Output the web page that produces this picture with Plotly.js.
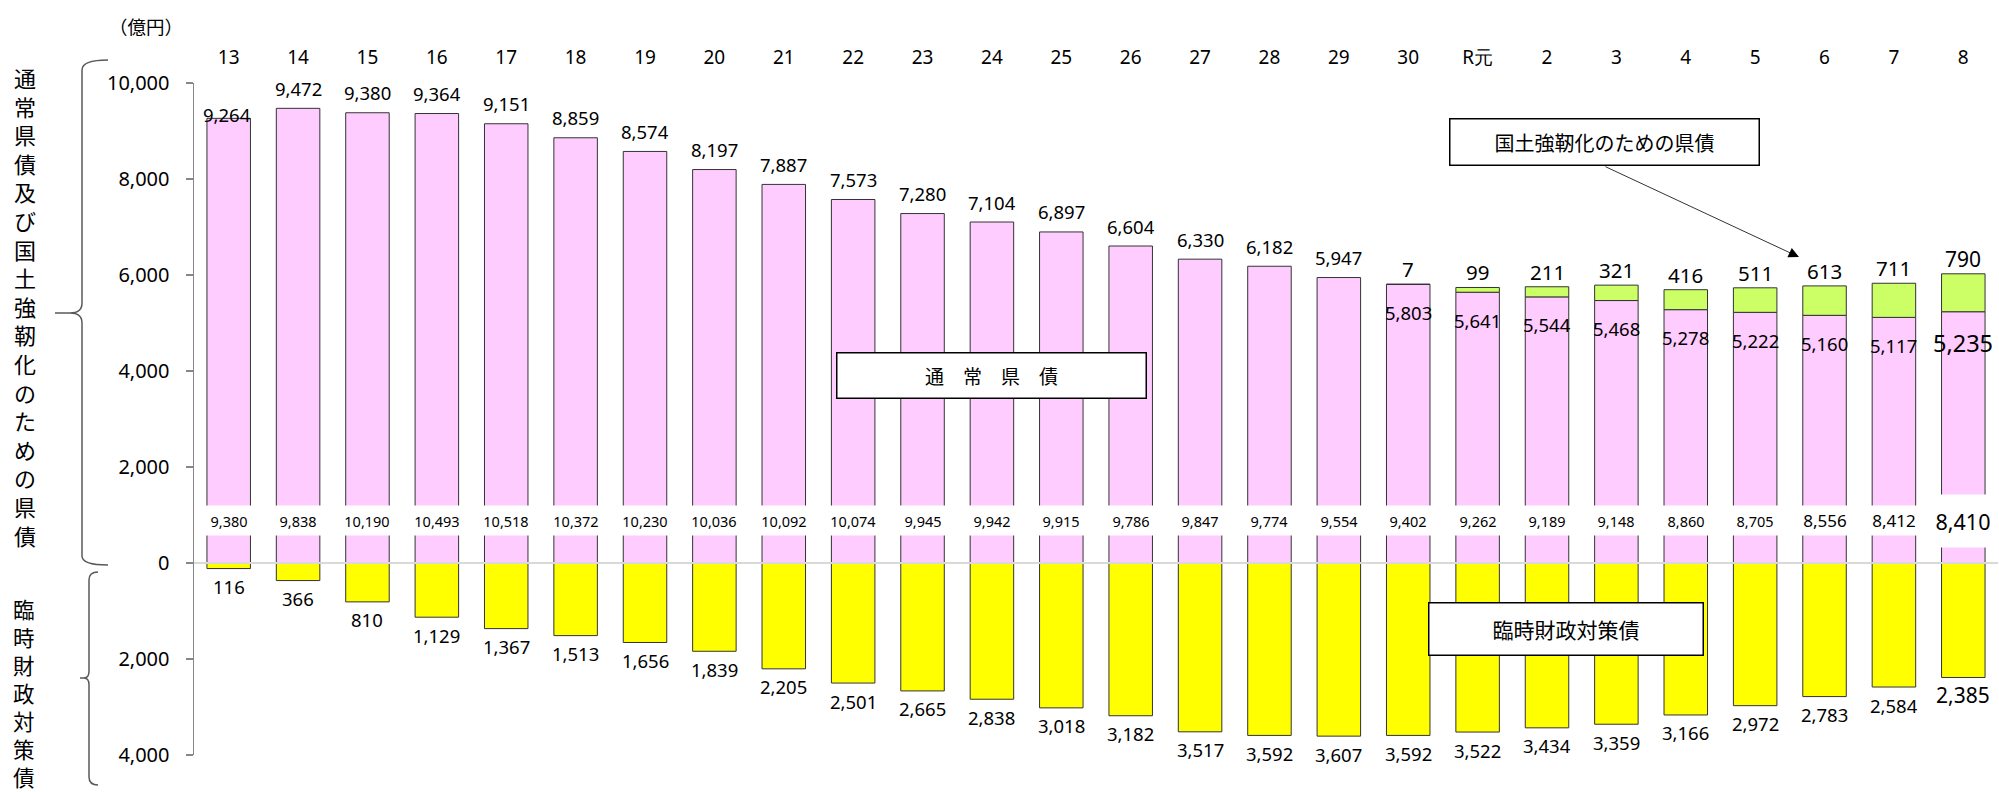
<!DOCTYPE html>
<html><head><meta charset="utf-8">
<script src="https://cdn.plot.ly/plotly-3.0.1.min.js"></script>
<style>html,body{margin:0;padding:0;background:#fff}#chart{width:1999px;height:792px}</style>
</head><body><div id="chart"></div>
<script>
// ---- data ----
const categories = ['13','14','15','16','17','18','19','20','21','22','23','24','25','26','27','28','29','30','R元','2','3','4','5','6','7','8'];
const normalDebt = [9264,9472,9380,9364,9151,8859,8574,8197,7887,7573,7280,7104,6897,6604,6330,6182,5947,5803,5641,5544,5468,5278,5222,5160,5117,5235];
const resilienceDebt = [null,null,null,null,null,null,null,null,null,null,null,null,null,null,null,null,null,7,99,211,321,416,511,613,711,790];
const tempDebt = [116,366,810,1129,1367,1513,1656,1839,2205,2501,2665,2838,3018,3182,3517,3592,3607,3592,3522,3434,3359,3166,2972,2783,2584,2385];
const totals = [9380,9838,10190,10493,10518,10372,10230,10036,10092,10074,9945,9942,9915,9786,9847,9774,9554,9402,9262,9189,9148,8860,8705,8556,8412,8410];
const yTickVals = [-4000,-2000,0,2000,4000,6000,8000,10000];
const yTickText = ['4,000','2,000','0','2,000','4,000','6,000','8,000','10,000'];
const titleNormal = '通常県債及び国土強靭化のための県債';
const titleTemp = '臨時財政対策債';
const unitLabel = '（億円）';
const boxNormal = '通　常　県　債';
const boxResilience = '国土強靭化のための県債';
const boxTemp = '臨時財政対策債';

// ---- layout helpers (decorations only) ----
const W = 1999, H = 792;
const M = {l:194, r:1, t:83, b:37};
const PW = W - M.l - M.r, PH = H - M.t - M.b;
const PX = px => (px - M.l) / PW;
const PY = py => (H - M.b - py) / PH;
const fmt = v => v.toLocaleString('en-US');
const NUM = 'Noto Sans, DejaVu Sans, sans-serif';
const JP = 'Noto Sans CJK JP, Noto Sans, sans-serif';
const TOTAL_LABEL_Y = 880;
const edge = {color:'#333333', width:1};

const traces = [
  {type:'bar', x:categories, y:normalDebt, marker:{color:'#FFCCFF', line:edge}, hoverinfo:'skip'},
  {type:'bar', x:categories, y:resilienceDebt, marker:{color:'#CCFF66', line:edge}, hoverinfo:'skip'},
  {type:'bar', x:categories, y:tempDebt.map(v => -v), marker:{color:'#FFFF00', line:edge}, hoverinfo:'skip'}
];

const ann = [];
const n = categories.length;
for (let i = 0; i < n; i++) {
  const last = i === n - 1;
  const stacked = resilienceDebt[i] !== null;
  ann.push({x:i, y:normalDebt[i], xref:'x', yref:'y', text:fmt(normalDebt[i]), showarrow:false,
    yanchor:'middle', yshift: stacked ? (last ? -31 : -28) : (i === 0 ? 4 : 20), xshift: i === 0 ? -2 : 0,
    font:{family:NUM, size: last ? 23.5 : 18.5, color:'#000'}});
  if (stacked) {
    ann.push({x:i, y:normalDebt[i] + resilienceDebt[i], xref:'x', yref:'y', text:fmt(resilienceDebt[i]), showarrow:false,
      yanchor:'middle', yshift:15, font:{family:NUM, size: last ? 21 : 20.5, color:'#000'}});
  }
  ann.push({x:i, y:-tempDebt[i], xref:'x', yref:'y', text:fmt(tempDebt[i]), showarrow:false,
    yanchor:'middle', yshift:-18, font:{family:NUM, size: last ? 21 : 18.5, color:'#000'}});
  const tsize = last ? 21.5 : (i >= 23 ? 17 : 14.5);
  ann.push({x:i, y:TOTAL_LABEL_Y, xref:'x', yref:'y', text:fmt(totals[i]), showarrow:false,
    yanchor:'middle', bgcolor:'#ffffff', width:54, height: last ? 50 : 27, borderpad:1,
    font:{family:NUM, size:tsize, color:'#000'}});
}

ann.push({xref:'paper', yref:'paper', x:PX(25), y:PY(306), text:titleNormal.split('').join('<br>'), showarrow:false,
  xanchor:'center', yanchor:'middle', font:{family:JP, size:22, color:'#000'}});
ann.push({xref:'paper', yref:'paper', x:PX(24), y:PY(692), text:titleTemp.split('').join('<br>'), showarrow:false,
  xanchor:'center', yanchor:'middle', font:{family:JP, size:21.5, color:'#000'}});
ann.push({xref:'paper', yref:'paper', x:PX(146), y:PY(26), text:unitLabel, showarrow:false,
  xanchor:'center', yanchor:'middle', font:{family:JP, size:18.5, color:'#000'}});
ann.push({xref:'paper', yref:'paper', x:PX(991), y:PY(375), text:boxNormal, showarrow:false,
  xanchor:'center', yanchor:'middle', width:306, height:42, borderpad:1, bgcolor:'#fff', bordercolor:'#000', borderwidth:1.5,
  font:{family:JP, size:19, color:'#000'}});
ann.push({xref:'paper', yref:'paper', x:PX(1604), y:PY(142.5), text:boxResilience, showarrow:false,
  xanchor:'center', yanchor:'middle', width:306, height:43, borderpad:1, bgcolor:'#fff', bordercolor:'#000', borderwidth:1.5,
  font:{family:JP, size:20, color:'#000'}});
ann.push({xref:'paper', yref:'paper', x:PX(1565.5), y:PY(628.5), text:boxTemp, showarrow:false,
  xanchor:'center', yanchor:'middle', width:271, height:49, borderpad:1, bgcolor:'#fff', bordercolor:'#000', borderwidth:1.5,
  font:{family:JP, size:21, color:'#000'}});
ann.push({xref:'paper', yref:'paper', x:PX(1799), y:PY(257), text:'', showarrow:true,
  ax:1604-1799, ay:166-257, arrowhead:2, arrowsize:2.6, arrowwidth:0.8, arrowcolor:'#000'});

const P = (x, y) => PX(x) + ',' + PY(y);
const brace1 = 'M' + P(108,60) + ' Q' + P(82,60) + ' ' + P(82,70) + ' L' + P(82,303) + ' Q' + P(82,313) + ' ' + P(70,313) + ' L' + P(55,313) +
  ' M' + P(70,313) + ' Q' + P(82,313) + ' ' + P(82,323) + ' L' + P(82,556) + ' Q' + P(82,565) + ' ' + P(108,565);
const brace2 = 'M' + P(98,572) + ' Q' + P(89,572) + ' ' + P(89,580) + ' L' + P(89,671) + ' Q' + P(89,678) + ' ' + P(84,678) + ' L' + P(80,678) +
  ' M' + P(84,678) + ' Q' + P(89,678) + ' ' + P(89,685) + ' L' + P(89,777) + ' Q' + P(89,785) + ' ' + P(98,785);

const layout = {
  width:W, height:H, margin:M, showlegend:false,
  paper_bgcolor:'#fff', plot_bgcolor:'#fff',
  barmode:'relative', bargap:0.373,
  xaxis:{type:'category', side:'top', range:[-0.5, n - 0.5], showgrid:false, showline:false, zeroline:false,
    ticks:'', ticklabelstandoff:14, automargin:false, tickfont:{family:NUM, size:19, color:'#000'}},
  yaxis:{range:[-4000, 10000], tickvals:yTickVals, ticktext:yTickText, showgrid:false, zeroline:false,
    showline:true, linecolor:'#868686', linewidth:1.5, ticks:'outside', ticklen:7, tickcolor:'#868686', tickwidth:1.5,
    ticklabelstandoff:12, automargin:false, tickfont:{family:NUM, size:20, color:'#000'}},
  shapes:[
    {type:'line', xref:'paper', yref:'y', x0:0, x1:1, y0:0, y1:0, layer:'above', line:{color:'#d9d9d9', width:2}},
    {type:'path', xref:'paper', yref:'paper', path:brace1, line:{color:'#595959', width:1.5}},
    {type:'path', xref:'paper', yref:'paper', path:brace2, line:{color:'#595959', width:1.5}}
  ],
  annotations:ann
};
Plotly.newPlot('chart', traces, layout, {staticPlot:true, displayModeBar:false});
</script></body></html>
